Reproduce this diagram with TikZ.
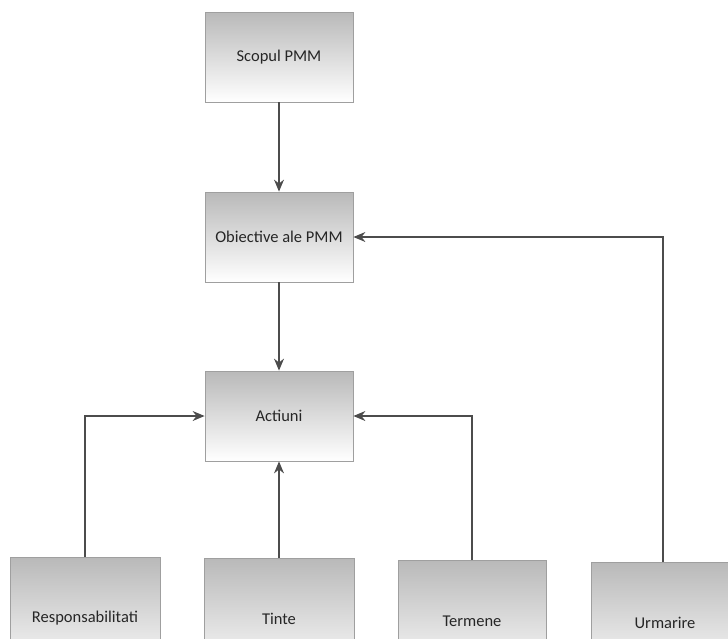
\documentclass[tikz,border=0pt]{standalone}
\usepackage{fontspec}
\setmainfont{Carlito}
\usetikzlibrary{arrows.meta}
\begin{document}
\begin{tikzpicture}[x=1pt,y=-1pt]
	\tikzset{box/.style={rectangle, draw=gray!75, line width=0.8pt, top color=gray!55, bottom color=white, minimum width=148pt, minimum height=90pt, inner sep=0pt, font=\fontsize{16.5}{19}\selectfont, text=black!85},
		lowbox/.style={box, minimum height=122pt},
		arr/.style={draw=black!70, line width=1.1pt, -{Stealth[length=12pt,width=10pt]}}}
	\useasboundingbox (0,0) rectangle (728,638);
	\clip (0,0) rectangle (728,638);
	\node[box] (scop) at (279,57) {Scopul PMM};
	\node[box] (obj) at (279,237) {Obiective ale PMM};
	\node[box] (act) at (279,416) {Actiuni};
	\node[lowbox,minimum width=150pt] (resp) at (85,618) {Responsabilitati};
	\node[lowbox,minimum width=150pt] (tint) at (279,619) {Tinte};
	\node[lowbox] (term) at (472,621) {Termene};
	\node[lowbox] (urm) at (665,623) {Urmarire};
	\draw[arr] (scop) -- (obj);
	\draw[arr] (obj) -- (act);
	\draw[arr] (tint) -- (act);
	\draw[arr] (resp.north) |- (act.west);
	\draw[arr] (term.north) |- (act.east);
	\draw[arr] (urm.north -| 663,0) |- (obj.east);
\end{tikzpicture}
\end{document}
